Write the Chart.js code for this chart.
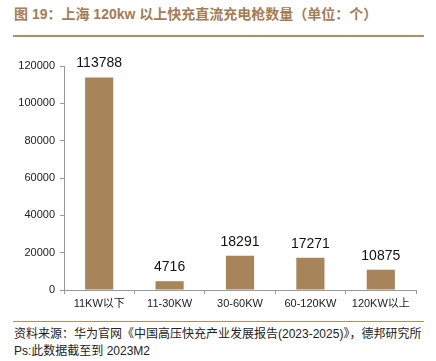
<!DOCTYPE html>
<html>
<head>
<meta charset="utf-8">
<script src="https://cdn.jsdelivr.net/npm/chart.js@4"></script>
<style>
  html, body { margin: 0; padding: 0; background: #fff; }
  body { width: 436px; height: 361px; position: relative; overflow: hidden; font-family: "Liberation Sans", "Noto Sans CJK SC", sans-serif; }
  #title { position: absolute; left: 14px; top: 3px; font-size: 14px; font-weight: bold; color: #A67C52; font-family: "Liberation Sans", "Noto Sans CJK SC", sans-serif; white-space: nowrap; letter-spacing: 0; }
  #topline { position: absolute; left: 13px; width: 411px; top: 35px; height: 2px; background: #B98C5F; }
  #wrap { position: absolute; left: 0; top: 40px; width: 436px; height: 270px; }
  #botline { position: absolute; left: 13px; width: 411px; top: 321px; height: 1px; background: #B98C5F; }
  #source { position: absolute; left: 14px; top: 326px; font-size: 12px; line-height: 17px; color: #222; white-space: nowrap; }
</style>
</head>
<body>
<div id="title">图 19：上海 120kw 以上快充直流充电枪数量（单位：个）</div>
<div id="topline"></div>
<div id="wrap"><canvas id="chart" width="436" height="270"></canvas></div>
<div id="botline"></div>
<div id="source">资料来源：华为官网《中国高压快充产业发展报告(2023-2025)》，德邦研究所<br>Ps:此数据截至到 2023M2</div>
<script>
// data
const categories = ['11KW以下', '11-30KW', '30-60KW', '60-120KW', '120KW以上'];
const counts = [113788, 4716, 18291, 17271, 10875];
const yTicks = [0, 20000, 40000, 60000, 80000, 100000, 120000];

// value labels above bars
const barLabels = {
  id: 'barLabels',
  afterDatasetsDraw(chart) {
    const ctx = chart.ctx;
    const meta = chart.getDatasetMeta(0);
    ctx.save();
    ctx.font = '14px "Liberation Sans", sans-serif';
    ctx.fillStyle = '#111';
    ctx.textAlign = 'center';
    ctx.textBaseline = 'bottom';
    meta.data.forEach((bar, i) => {
      ctx.fillText(String(counts[i]), bar.x, bar.y - 7);
    });
    ctx.restore();
  }
};

new Chart(document.getElementById('chart'), {
  type: 'bar',
  data: {
    labels: categories,
    datasets: [{
      data: counts,
      backgroundColor: '#A8845A',
      categoryPercentage: 0.4,
      barPercentage: 1
    }]
  },
  options: {
    responsive: false,
    animation: false,
    layout: { padding: { top: 26, right: 20, left: 0, bottom: 0 } },
    plugins: { legend: { display: false }, tooltip: { enabled: false } },
    scales: {
      x: {
        grid: { offset: true, drawOnChartArea: false, tickLength: 4, color: '#999' },
        border: { color: '#999' },
        ticks: { color: '#222', font: { size: 11, family: '"Liberation Sans", "Noto Sans CJK SC", sans-serif' }, padding: 3, maxRotation: 0 },
        afterFit(axis) { axis.height = 20; }
      },
      y: {
        min: 0,
        max: 120000,
        afterBuildTicks(axis) { axis.ticks = yTicks.map(v => ({ value: v })); },
        grid: { drawOnChartArea: false, tickLength: 4, color: '#999' },
        border: { color: '#999' },
        ticks: { color: '#222', font: { size: 11, family: '"Liberation Sans", sans-serif' }, padding: 5, callback: v => String(v) },
        afterFit(axis) { axis.width = 64; }
      }
    }
  },
  plugins: [barLabels]
});
</script>
</body>
</html>
